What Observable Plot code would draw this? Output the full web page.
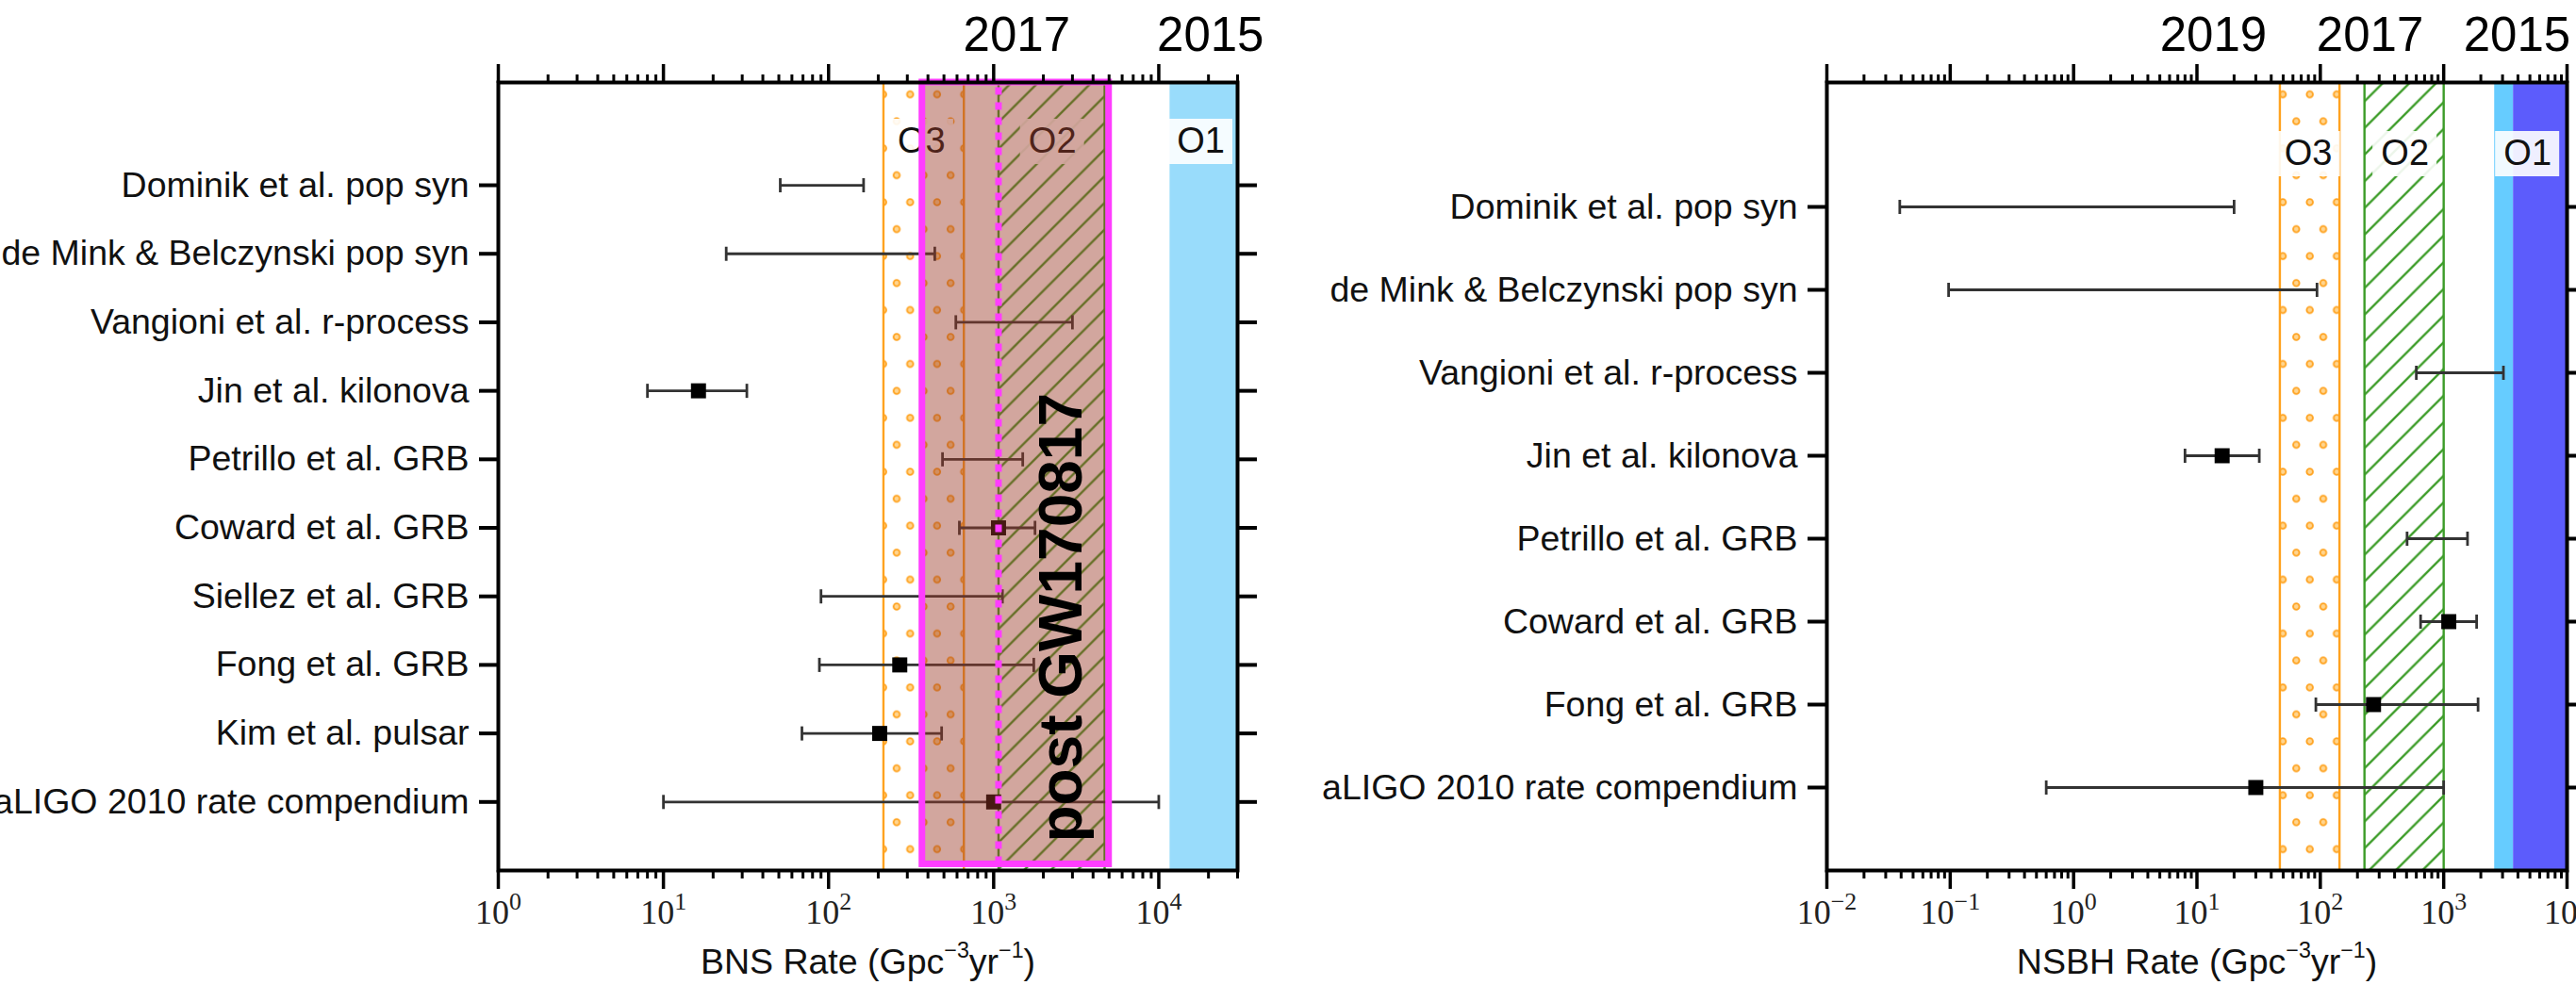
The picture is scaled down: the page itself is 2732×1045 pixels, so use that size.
<!DOCTYPE html>
<html><head><meta charset="utf-8">
<script src="https://cdn.jsdelivr.net/npm/d3@7"></script>
<script src="https://cdn.jsdelivr.net/npm/@observablehq/plot@0.6"></script>
<style>
html,body{margin:0;padding:0;background:#fff;}
#page{position:relative;width:2732px;height:1045px;overflow:hidden;background:#fff;}
.panel{position:absolute;top:0;}
.panel svg{max-width:none !important;}
g[aria-label="x-axis tick label"]{font-family:"Liberation Serif","Times New Roman",serif;fill:#222;}
</style></head>
<body><div id="page"><div id="left" class="panel" style="left:0"></div><div id="right" class="panel" style="left:1370px"></div></div>
<script>
// ---------- data ----------
const bnsNames = ["Dominik et al. pop syn","de Mink & Belczynski pop syn","Vangioni et al. r-process","Jin et al. kilonova","Petrillo et al. GRB","Coward et al. GRB","Siellez et al. GRB","Fong et al. GRB","Kim et al. pulsar","aLIGO 2010 rate compendium"];
const bnsLow  = [51, 24, 590, 8, 490, 620, 90, 88, 69, 10];
const bnsHigh = [163, 440, 3000, 32, 1500, 1780, 1130, 1750, 484, 10000];
const bnsMid  = [null, null, null, 16.3, null, 1070, null, 270, 204, 1000];

const nsbhNames = ["Dominik et al. pop syn","de Mink & Belczynski pop syn","Vangioni et al. r-process","Jin et al. kilonova","Petrillo et al. GRB","Coward et al. GRB","Fong et al. GRB","aLIGO 2010 rate compendium"];
const nsbhLow  = [0.039, 0.097, 600, 8, 505, 650, 92, 0.6];
const nsbhHigh = [20, 94, 3050, 32, 1560, 1850, 1900, 1000];
const nsbhMid  = [null, null, null, 16, null, 1100, 270, 30];

const bnsO3 = [215, 660], bnsO2 = [1070, 4700], bnsO1 = [11700, 30000];
const bnsPostGW = [370, 5000], bnsGWLine = [1070];
const nsbhO3 = [47, 143], nsbhO2 = [228, 1000], nsbhO1a = [2590, 3680], nsbhO1b = [3680, 10000];

const runNames = ["O3", "O2", "O1"];
const bnsRunX = [366, 2270, 17960];
const nsbhRunX = [80, 486, 4790];
const bnsYears = ["2017", "2015"], bnsYearX = [1380, 20560];
const nsbhYears = ["2019", "2017", "2015"], nsbhYearX = [13.6, 253, 3930];

const bnsMajors = [1, 10, 100, 1000, 10000];
const nsbhMajors = [0.01, 0.1, 1, 10, 100, 1000, 10000];

// ---------- helpers ----------
function minors(majors, dom) {
  const out = [];
  for (const m of majors) for (let k = 2; k <= 9; k++) { const v = m * k; if (v >= dom[0] * 0.999 && v <= dom[1] * 1.001) out.push(v); }
  return out;
}
const expFmt = v => "10^{" + String(Math.round(Math.log10(v))).replace("-", "\u2212") + "}";

const defsMark = (p) => () => {
  const d = d3.create("svg:defs");
  const p1 = d.append("pattern").attr("id", p + "dots").attr("patternUnits", "userSpaceOnUse").attr("width", 28.6).attr("height", 57.2);
  for (const [cx, cy] of [[7.15, 14.3], [21.45, 42.9]])
    p1.append("circle").attr("cx", cx).attr("cy", cy).attr("r", 3.3).attr("fill", "#ffd58f").attr("stroke", "#ffa21f").attr("stroke-width", 1.8);
  const p2 = d.append("pattern").attr("id", p + "hatch").attr("patternUnits", "userSpaceOnUse").attr("width", 28.3).attr("height", 28.3);
  p2.append("path").attr("d", "M-7,7L7,-7M0,28.3L28.3,0M21.3,35.3L35.3,21.3").attr("stroke", "#3c9c28").attr("stroke-width", 2.4);
  return d.node();
};
const boxMark = (xs, dy) => (index, scales, values, dims) => {
  const g = d3.create("svg:g");
  for (const x of xs) {
    const cx = scales.x(x);
    g.append("rect").attr("x", cx - 34).attr("y", dims.marginTop + dy - 23).attr("width", 68).attr("height", 48)
      .attr("fill", "white").attr("fill-opacity", 0.9);
  }
  return g.node();
};
const capSymbol = { draw(ctx, size) { const r = Math.sqrt(size / Math.PI); ctx.moveTo(0, -r); ctx.lineTo(0, r); } };

function panel(o) {
  const n = o.names.length;
  const rows = o.names.map((name, i) => ({ name, pos: n - i, lo: o.low[i], hi: o.high[i], mid: o.mid[i] }));
  const ytop = n + 1.5;
  const mins = minors(o.majors, o.xDomain);
  const runs = runNames.map((r, i) => ({ run: r, x: o.runX[i] }));
  const years = o.years.map((y, i) => ({ year: y, x: o.yearX[i] }));
  const marks = [
    defsMark(o.id),
    ...o.bands.map(b => Plot.rect([b], { x1: d => d.r[0], x2: d => d.r[1], fill: b.fill })),
    ...o.bands.filter(b => b.edge).map(b => Plot.ruleX(b.r, { stroke: b.edge, strokeWidth: 2.4 })),
    boxMark(o.runX, o.runDy),
    Plot.text(runs, { x: "x", text: "run", frameAnchor: "top", lineAnchor: "middle", dy: o.runDy, fontSize: 38, fill: "#111" }),
    Plot.ruleY(rows, { x1: "lo", x2: "hi", y: "pos", stroke: "#333", strokeWidth: 2.8 }),
    Plot.dot(rows, { x: "lo", y: "pos", symbol: capSymbol, r: 7.5, stroke: "#333", strokeWidth: 2.8, fill: "none" }),
    Plot.dot(rows, { x: "hi", y: "pos", symbol: capSymbol, r: 7.5, stroke: "#333", strokeWidth: 2.8, fill: "none" }),
    Plot.dot(rows.filter(d => d.mid != null), { x: "mid", y: "pos", symbol: "square", r: 9, fill: "black" }),
  ];
  if (o.gw) {
    marks.push(
      Plot.rect([o.gw], { x1: d => d[0], x2: d => d[1], y1: () => 0.09, y2: () => ytop, fill: "#9c3a28", fillOpacity: 0.45, stroke: "#ff3dff", strokeWidth: 7 }),
      Plot.ruleX(o.gwLine, { y1: 0.09, y2: ytop, stroke: "#ff3dff", strokeWidth: 7, strokeDasharray: "8,8" }),
      Plot.text([{ t: "post GW170817", x: 2606, y: 3.69 }], { x: "x", y: "y", text: "t", rotate: -90, lineAnchor: "middle", fontSize: 64, fontWeight: "bold", fill: "black" })
    );
  }
  marks.push(
    Plot.text(years, { x: "x", text: "year", frameAnchor: "top", lineAnchor: "middle", dy: -50, fontSize: 51, fill: "#000" }),
    Plot.axisX({ anchor: "bottom", ticks: o.majors, tickSize: 20, tickPadding: 11, strokeWidth: 3.5, tickFormat: expFmt, fontSize: 36, label: null }),
    Plot.axisX({ anchor: "bottom", ticks: mins, tickSize: 9, strokeWidth: 3, tickFormat: () => "", label: null }),
    Plot.axisX({ anchor: "top", ticks: o.majors, tickSize: 20, strokeWidth: 3.5, tickFormat: () => "", label: null }),
    Plot.axisX({ anchor: "top", ticks: mins, tickSize: 9, strokeWidth: 3, tickFormat: () => "", label: null }),
    Plot.axisY({ anchor: "left", ticks: rows.map(d => d.pos), tickSize: 20, tickPadding: 11, strokeWidth: 4, tickFormat: p => o.names[n - p], fontSize: 37.5, fill: "#111", label: null }),
    Plot.axisY({ anchor: "right", ticks: rows.map(d => d.pos), tickSize: 20, strokeWidth: 4, tickFormat: () => "", label: null }),
    Plot.frame({ stroke: "black", strokeWidth: 4 }),
    Plot.text([o.axisLabel], { text: d => d, frameAnchor: "bottom", lineAnchor: "middle", dy: 97, fontSize: 37.5, fill: "#111" })
  );
  return Plot.plot({
    width: o.width, height: 1045,
    marginLeft: o.marginLeft, marginRight: o.marginRight, marginTop: 87, marginBottom: 122,
    x: { type: "log", domain: o.xDomain },
    y: { domain: [0, ytop] },
    style: { fontFamily: "'Liberation Sans', Arial, sans-serif", background: "white", color: "black", overflow: "visible" },
    marks
  });
}

function supify(svg) {
  svg.querySelectorAll("text").forEach(t => {
    const s = t.textContent;
    if (!s.includes("^{")) return;
    const fs = parseFloat(getComputedStyle(t).fontSize) || 36;
    const isTick = t.closest('g[aria-label="x-axis tick label"]') != null;
    const scale = isTick ? 0.72 : 0.62, rise = isTick ? 0.42 : 0.45;
    const parts = s.split(/(\^\{[^}]*\})/).filter(p => p);
    t.textContent = "";
    let up = false;
    for (const p of parts) {
      const ts = document.createElementNS("http://www.w3.org/2000/svg", "tspan");
      if (p.startsWith("^{")) {
        ts.textContent = p.slice(2, -1);
        ts.setAttribute("font-size", fs * scale);
        ts.setAttribute("dy", -fs * rise);
        up = true;
      } else {
        ts.textContent = p;
        if (up) { ts.setAttribute("dy", fs * rise); up = false; }
      }
      t.appendChild(ts);
    }
  });
}

const left = panel({
  id: "L", names: bnsNames, low: bnsLow, high: bnsHigh, mid: bnsMid,
  xDomain: [1, 30000], majors: bnsMajors, width: 1370, marginLeft: 528, marginRight: 58,
  bands: [
    { r: bnsO3, fill: "url(#Ldots)", edge: "#ffa21f" },
    { r: bnsO2, fill: "url(#Lhatch)", edge: "#3c9c28" },
    { r: bnsO1, fill: "#99dcfb" }
  ],
  runX: bnsRunX, runDy: 62, years: bnsYears, yearX: bnsYearX,
  gw: bnsPostGW, gwLine: bnsGWLine,
  axisLabel: "BNS Rate (Gpc^{\u22123}yr^{\u22121})"
});
const right = panel({
  id: "R", names: nsbhNames, low: nsbhLow, high: nsbhHigh, mid: nsbhMid,
  xDomain: [0.01, 10000], majors: nsbhMajors, width: 1362, marginLeft: 567, marginRight: 10,
  bands: [
    { r: nsbhO3, fill: "url(#Rdots)", edge: "#ffa21f" },
    { r: nsbhO2, fill: "url(#Rhatch)", edge: "#3c9c28" },
    { r: nsbhO1a, fill: "#66ccff" },
    { r: nsbhO1b, fill: "#5c5cfc" }
  ],
  runX: nsbhRunX, runDy: 75, years: nsbhYears, yearX: nsbhYearX,
  gw: null,
  axisLabel: "NSBH Rate (Gpc^{\u22123}yr^{\u22121})"
});
document.getElementById("left").appendChild(left);
document.getElementById("right").appendChild(right);
supify(left); supify(right);
</script>
</body></html>
